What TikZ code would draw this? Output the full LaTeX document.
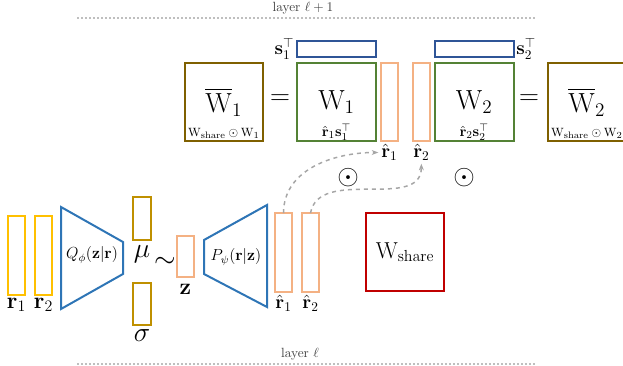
\documentclass[tikz,border=0pt]{standalone}
\usepackage{amsmath,amssymb}
\usetikzlibrary{arrows.meta,positioning}
\definecolor{cyel}{HTML}{FFC000}
\definecolor{cgold}{HTML}{BF9000}
\definecolor{cpeach}{HTML}{F4B183}
\definecolor{cblue}{HTML}{2E75B6}
\definecolor{cnavy}{HTML}{2F5597}
\definecolor{cgreen}{HTML}{548235}
\definecolor{cbrown}{HTML}{7F6000}
\definecolor{cred}{HTML}{C00000}
\tikzset{wmat/.style={rectangle,draw=cgreen,line width=1.5pt,outer sep=0pt,minimum width=59pt,minimum height=58.5pt,font=\huge}}
\tikzset{wbar/.style={wmat,draw=cbrown}}
\tikzset{wshare/.style={wmat,draw=cred,minimum width=58.5pt,font=\LARGE}}
\tikzset{svec/.style={rectangle,draw=cnavy,line width=1.5pt,outer sep=0pt,minimum width=59pt,minimum height=12pt}}
\tikzset{rvec/.style={rectangle,draw=cpeach,line width=1.5pt,outer sep=0pt,minimum width=12.75pt,minimum height=59pt}}
\tikzset{invec/.style={rvec,draw=cyel}}
\tikzset{stat/.style={rvec,draw=cgold,minimum width=13.5pt,minimum height=32pt}}
\tikzset{zvec/.style={rvec,minimum height=31pt}}
\tikzset{net/.style={draw=cblue,line width=1.5pt,line join=miter}}
\tikzset{sub/.style={anchor=base,font=\fontsize{9.5pt}{11pt}\selectfont}}
\tikzset{subrs/.style={sub,font=\fontsize{11pt}{13pt}\selectfont}}
\tikzset{sym/.style={font=\huge}}
\tikzset{layer/.style={gray!50,line width=1.5pt,dash pattern=on 1.5pt off 1.5pt}}
\tikzset{layertext/.style={text=black!75}}
\tikzset{copyArrow/.style={-{Stealth[length=5pt]},gray!70,dashed,line width=1.1pt}}

\begin{document}
\begin{tikzpicture}[x=0.75pt,y=-0.75pt]
\useasboundingbox (0,0) rectangle (623,366);
% layer l+1
\node (ltop) [layertext] at (303,8) {layer $\ell+1$};
\coordinate (lta) at (77,18);
\coordinate (ltb) at (537,18);
\draw[layer] (lta) -- (ltb);
\begin{scope}[node distance=0pt]
	\node (w1) [wmat] at (336.5,102) {$\mathrm{W}_1$};
	\node (s1) [svec, above=4.5pt of w1] {};
	\node (rt1) [rvec, right=3.75pt of w1] {};
	\node (rt2) [rvec, right=11.25pt of rt1] {};
	\node (w2) [wmat, right=3.75pt of rt2] {$\mathrm{W}_2$};
	\node (s2) [svec, above=4.5pt of w2] {};
	\node (wb1) [wbar, left=25.5pt of w1] {$\overline{\mathrm{W}}_1$};
	\node (wb2) [wbar, right=25.5pt of w2] {$\overline{\mathrm{W}}_2$};
	\node (s1t) [font=\Large, left=of s1, inner sep=2pt] {$\mathbf{s}_1^\top$};
	\node (s2t) [font=\Large, right=of s2, inner sep=2pt] {$\mathbf{s}_2^\top$};
	\node (rt1t) [font=\Large, below=of rt1, inner sep=2pt] {$\hat{\mathbf{r}}_1$};
	\node (rt2t) [font=\Large, below=of rt2, inner sep=2pt] {$\hat{\mathbf{r}}_2$};
	\node (w1t) [subrs] at ([yshift=3.5pt]w1.south) {$\hat{\mathbf{r}}_1\mathbf{s}_1^\top$};
	\node (w2t) [subrs] at ([yshift=3.5pt]w2.south) {$\hat{\mathbf{r}}_2\mathbf{s}_2^\top$};
	\node (wb1t) [sub] at ([yshift=3.5pt]wb1.south) {$\mathrm{W}_{\mathrm{share}}\odot\mathrm{W}_1$};
	\node (wb2t) [sub] at ([yshift=3.5pt]wb2.south) {$\mathrm{W}_{\mathrm{share}}\odot\mathrm{W}_2$};
\end{scope}
\node (eq1) [sym] at (280,100) {$=$};
\node (eq2) [sym] at (529,100) {$=$};
\node (had1) [sym] at (348,178) {$\odot$};
\node (had2) [sym] at (464,178) {$\odot$};
% layer l
\begin{scope}[node distance=0pt]
	\node (r1) [invec] at (16.5,255.5) {};
	\node (r2) [invec, right=7.5pt of r1] {};
	\node (r1t) [font=\LARGE, below=of r1, inner sep=2pt] {$\mathbf{r}_1$};
	\node (r2t) [font=\LARGE, below=of r2, inner sep=2pt] {$\mathbf{r}_2$};
	\node (mu) [stat] at (142,218.5) {};
	\node (sig) [stat] at (142,304) {};
	\node (mut) [sym, below=2pt of mu, inner sep=2pt] {$\mu$};
	\node (sigt) [sym, below=1pt of sig, inner sep=2pt] {$\sigma$};
	\node (sim) [sym] at (165,262) {$\sim$};
	\node (z) [zvec] at (185.5,256.5) {};
	\node (zt) [font=\LARGE, below=3pt of z, inner sep=2pt] {$\mathbf{z}$};
	\node (rb1) [rvec] at (283.5,252.5) {};
	\node (rb2) [rvec, right=7.5pt of rb1] {};
	\node (rb1t) [font=\Large, below=of rb1, inner sep=2pt] {$\hat{\mathbf{r}}_1$};
	\node (rb2t) [font=\Large, below=of rb2, inner sep=2pt] {$\hat{\mathbf{r}}_2$};
	\node (ws) [wshare] at (405,252) {$\mathrm{W}_{\mathrm{share}}$};
\end{scope}
\draw[net] (61,207) -- (123,242) -- (123,274) -- (61,309) -- cycle;
\node (enc) [font=\large] at (92,255) {$Q_\phi(\mathbf{z}|\mathbf{r})$};
\draw[net] (204,240) -- (267,205) -- (267,307) -- (204,274) -- cycle;
\node (dec) [font=\large] at (236,257) {$P_\psi(\mathbf{r}|\mathbf{z})$};
\draw[copyArrow] (rb1.north) to[out=90,in=180] (rt1t.west);
\draw[copyArrow] (rb2.north) to[out=80,in=-90] (rt2t.south);
\node (lbot) [layertext] at (300,354) {layer $\ell$};
\coordinate (lba) at (77,364);
\coordinate (lbb) at (537,364);
\draw[layer] (lba) -- (lbb);
\end{tikzpicture}
\end{document}
